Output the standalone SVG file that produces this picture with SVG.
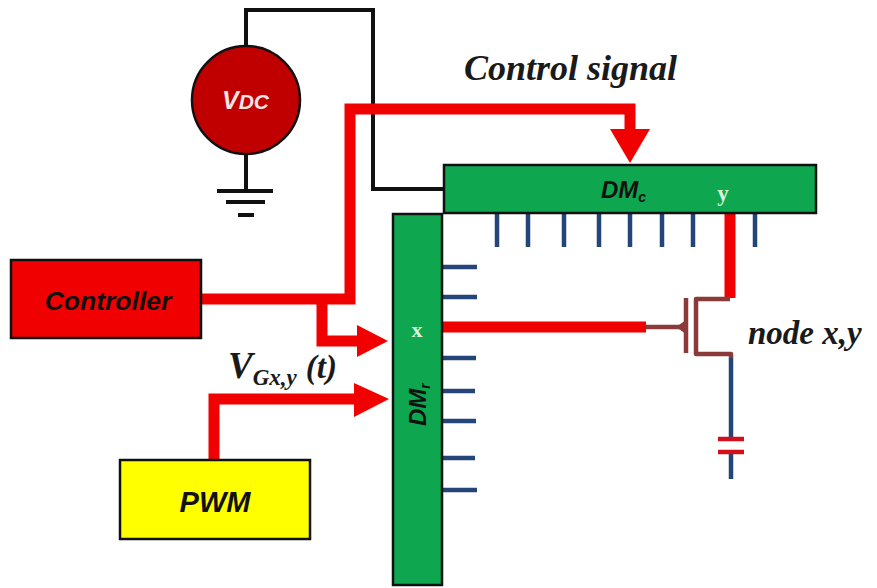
<svg xmlns="http://www.w3.org/2000/svg" width="877" height="588" viewBox="0 0 877 588">
<style>
.k{stroke:#111;stroke-width:4;fill:none}
.r{stroke:#f00000;stroke-width:11;fill:none}
.b{stroke:#24457a;stroke-width:4.5;fill:none}
.m{stroke:#8b3a3a;stroke-width:4.5;fill:none}
.box{stroke:#111;stroke-width:2.5}
.g{fill:#0ea64f}
.red{fill:#f00000;stroke:none}
.ser{font-family:"Liberation Serif",serif;font-style:italic;font-weight:bold;fill:#1a1a1a}
.san{font-family:"Liberation Sans",sans-serif;font-style:italic;font-weight:bold;fill:#111}
</style>
<rect width="877" height="588" fill="#fff"/>
<g id="connectors">
<path class="k" d="M246 46V10H373V189H444"/>
<path class="k" d="M246 154V191"/>
<path class="k" d="M217 191H273M226 202H265M238 215H254"/>
<path class="b" d="M497 214V247M528 214V247M564 214V247M599 214V247M630 214V247M662 214V247M693 214V247M755 214V247"/>
<path class="b" d="M443 267H477M443 297H477M443 358H476M443 391H475M443 421H476M443 458H475M443 490H477"/>
<path class="r" d="M200 299H350V109H630V135"/>
<path class="red" d="M610 129H650L630 163Z"/>
<path class="r" d="M322 299V341H360"/>
<path class="red" d="M357 325L388 341L357 357Z"/>
<path class="r" d="M214 460V399H360"/>
<path class="red" d="M354 383L389 399L354 417Z"/>
<path class="r" d="M443 327H646"/>
<path class="r" d="M730 214V298"/>
<path class="m" d="M646 327H684"/>
<path class="m" stroke-linejoin="round" d="M730 299H696V354H731V358"/>
<path d="M676 327L686 320V334Z" fill="#8b3a3a"/>
<path class="m" d="M686 298V353"/>
<path class="b" d="M731 358V438M731 452V479"/>
<path stroke="#d0101a" stroke-width="4.5" fill="none" d="M718 439H744M718 452H744"/>
</g>
<g id="vdc">
<circle cx="246" cy="100" r="54" fill="#c00000" stroke="#111" stroke-width="2.5"/>
<text x="222" y="109" font-family="Liberation Sans, sans-serif" font-style="italic" font-weight="bold" font-size="25" fill="#f4e4e4">V<tspan font-size="21">DC</tspan></text>
</g>
<g id="dmc">
<rect class="box g" x="444" y="165" width="372" height="48"/>
<text x="601" y="198" class="san" font-size="24">DM<tspan font-size="14" dy="4">c</tspan></text>
<text x="723" y="201" text-anchor="middle" font-family="Liberation Serif, serif" font-weight="bold" font-size="23" fill="#d8f4d8">y</text>
</g>
<g id="dmr">
<rect class="box g" x="393" y="214" width="49" height="371"/>
<text transform="translate(426 426) rotate(-90)" class="san" font-size="24">DM<tspan font-size="14" dy="4">r</tspan></text>
<text x="417" y="337" text-anchor="middle" font-family="Liberation Serif, serif" font-weight="bold" font-size="22" fill="#d8f4d8">x</text>
</g>
<g id="controller">
<rect class="box" x="11" y="260" width="190" height="78" fill="#f00000"/>
<text x="108" y="310" text-anchor="middle" class="san" font-size="26.5">Controller</text>
</g>
<g id="pwm">
<rect class="box" x="120" y="460" width="190" height="79" fill="#ffff00"/>
<text x="215" y="512" text-anchor="middle" class="san" font-size="29">PWM</text>
</g>
<g id="labels">
<text x="464" y="80" class="ser" font-size="36">Control signal</text>
<text x="748" y="344" class="ser" font-size="33">node x,y</text>
<text x="228" y="378" class="ser" font-size="37" font-weight="normal">V<tspan font-size="23" dy="7">Gx,y</tspan><tspan font-size="33" dy="-7" dx="9">(t)</tspan></text>
</g>
</svg>
